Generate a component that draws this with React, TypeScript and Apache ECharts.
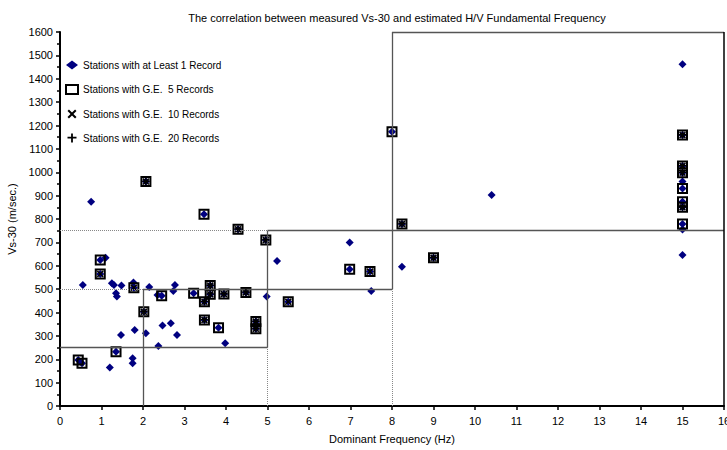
import React, { useEffect, useRef } from "react";
import * as echarts from "echarts";

// Stations with only 1-4 records (diamond only)
const atLeast1Only: [number, number][] = [
  [1.1, 634], [0.55, 518], [1.25, 525], [1.3, 518], [1.48, 515], [1.35, 482], [1.37, 468],
  [1.77, 528], [2.15, 509], [2.35, 475], [2.77, 518], [2.73, 492], [1.8, 325], [2.07, 311],
  [1.47, 304], [2.47, 344], [2.67, 354], [2.82, 304], [2.37, 257], [1.75, 204], [1.75, 183],
  [1.2, 165], [3.98, 268], [4.98, 468], [5.23, 620], [6.98, 699], [7.5, 492], [8.24, 596],
  [10.4, 903], [0.75, 874], [15, 1462], [15, 960], [15, 755], [15, 646],
];
// Stations with 5-9 records
const ge5Only: [number, number][] = [
  [0.97, 625], [0.44, 197], [0.53, 183], [1.35, 232], [2.45, 472], [3.22, 482], [3.47, 820],
  [3.82, 335], [6.98, 585], [8.0, 1173], [15, 931], [15, 874], [15, 779],
];
// Stations with 10-19 records
const ge10Only: [number, number][] = [
  [0.97, 565], [1.78, 506], [7.47, 575], [5.5, 446],
];
// Stations with 20 or more records
const ge20: [number, number][] = [
  [2.07, 960], [4.29, 756], [4.96, 710], [2.02, 403], [3.62, 515], [3.62, 478], [3.48, 446],
  [3.95, 479], [4.48, 486], [3.48, 368], [4.72, 361], [4.72, 330], [8.24, 779], [9.0, 634],
  [15, 1159], [15, 1027], [15, 998], [15, 850],
];

const seriesNames = [
  "Stations with at Least 1 Record",
  "Stations with G.E.  5 Records",
  "Stations with G.E.  10 Records",
  "Stations with G.E.  20 Records",
];

// classification boxes [x1, y1, x2, y2]
const solidSegments: number[][] = [
  [0, 250, 5, 250], [2, 0, 2, 500], [2, 500, 8, 500], [5, 250, 5, 750],
  [5, 750, 16, 750], [8, 500, 8, 1600], [8, 1600, 16, 1600],
];
const dottedSegments: number[][] = [
  [0, 500, 2, 500], [0, 750, 5, 750], [5, 0, 5, 250], [8, 0, 8, 500],
];
const borderSegments: number[][] = [[16, 0, 16, 1600]];

const FONT = "'Liberation Sans', Arial, sans-serif";
const X_PATH =
  "path://M0,1.6 L1.6,0 L5,3.4 L8.4,0 L10,1.6 L6.6,5 L10,8.4 L8.4,10 L5,6.6 L1.6,10 L0,8.4 L3.4,5 Z";
const PLUS_PATH = "path://M4,0 H6 V3.5 H10 V5.5 H6 V10 H4 V5.5 H0 V3.5 H4 Z";

function seg(list: number[][], color: string, type: string, width: number) {
  return list.map((s) => [
    { coord: [s[0], s[1]], lineStyle: { color, type, width } },
    { coord: [s[2], s[3]] },
  ]);
}

export default function App() {
  const ref = useRef<HTMLDivElement>(null);
  useEffect(() => {
    if (!ref.current) return;
    const chart = echarts.init(ref.current, undefined, { renderer: "svg" });
    const s1 = [...atLeast1Only, ...ge5Only, ...ge10Only, ...ge20];
    const s2 = [...ge5Only, ...ge10Only, ...ge20];
    const s3 = [...ge10Only, ...ge20];
    const s4 = [...ge20];
    chart.setOption({
      animation: false,
      backgroundColor: "#fff",
      textStyle: { fontFamily: FONT },
      title: {
        text: "The correlation between measured Vs-30 and estimated H/V Fundamental Frequency",
        left: 392,
        top: 7,
        textAlign: "center",
        textStyle: { fontSize: 11, fontWeight: "normal", color: "#000", fontFamily: FONT },
      },
      legend: {
        data: seriesNames,
        orient: "vertical",
        left: 60,
        top: 55,
        itemWidth: 12,
        itemHeight: 9,
        itemGap: 14,
        textStyle: { fontSize: 10, color: "#000", fontFamily: FONT },
        selectedMode: false,
      },
      grid: { left: 60, right: 3, top: 32, bottom: 44, containLabel: false, outerBoundsMode: "none" },
      xAxis: {
        type: "value",
        min: 0,
        max: 16,
        interval: 1,
        name: "Dominant Frequency (Hz)",
        nameLocation: "middle",
        nameGap: 27,
        nameTextStyle: { fontSize: 11, color: "#000", fontFamily: FONT },
        axisLine: { show: true, onZero: false, lineStyle: { color: "#000", width: 2 } },
        axisTick: { show: true, length: 4, lineStyle: { color: "#000", width: 1.5 } },
        axisLabel: { fontSize: 11, color: "#000", margin: 9, fontFamily: FONT, formatter: (v: number) => String(v) },
        splitLine: { show: false },
      },
      yAxis: {
        type: "value",
        min: 0,
        max: 1600,
        interval: 100,
        name: "Vs-30 (m/sec.)",
        nameLocation: "middle",
        nameGap: 40,
        nameTextStyle: { fontSize: 11, color: "#000", fontFamily: FONT },
        axisLine: { show: true, onZero: false, lineStyle: { color: "#000", width: 2 } },
        axisTick: { show: true, length: 4, lineStyle: { color: "#000", width: 1.5 } },
        minorTick: { show: true, splitNumber: 2, length: 3, lineStyle: { color: "#000", width: 1.5 } },
        axisLabel: { fontSize: 11, color: "#000", margin: 7, fontFamily: FONT, formatter: (v: number) => String(v) },
        splitLine: { show: false },
      },
      series: [
        {
          type: "line",
          name: "boxes",
          data: [],
          z: 1,
          silent: true,
          markLine: {
            silent: true,
            symbol: ["none", "none"],
            label: { show: false },
            emphasis: { disabled: true },
            data: [
              ...seg(dottedSegments, "#888", "dotted", 1),
              ...seg(solidSegments, "#555", "solid", 1.3),
              ...seg(borderSegments, "#000", "solid", 1.5),
            ],
          },
        },
        {
          type: "scatter",
          name: seriesNames[0],
          data: s1,
          symbol: "diamond",
          symbolSize: [8, 8],
          z: 2,
          itemStyle: { color: "#000080", opacity: 1 },
        },
        {
          type: "scatter",
          name: seriesNames[1],
          data: s2,
          symbol: "rect",
          symbolSize: 9,
          z: 3,
          itemStyle: { color: "rgba(0,0,0,0)", borderColor: "#000", borderWidth: 2, opacity: 1 },
        },
        {
          type: "scatter",
          name: seriesNames[2],
          data: s3,
          symbol: X_PATH,
          symbolSize: 7,
          z: 4,
          itemStyle: { color: "#000", opacity: 1 },
        },
        {
          type: "scatter",
          name: seriesNames[3],
          data: s4,
          symbol: PLUS_PATH,
          symbolSize: 7,
          z: 5,
          itemStyle: { color: "#000", opacity: 1 },
        },
      ],
    });
    return () => chart.dispose();
  }, []);
  return (
    <div
      ref={ref}
      style={{ position: "fixed", left: 0, top: 0, width: 727, height: 450, background: "#fff" }}
    />
  );
}
